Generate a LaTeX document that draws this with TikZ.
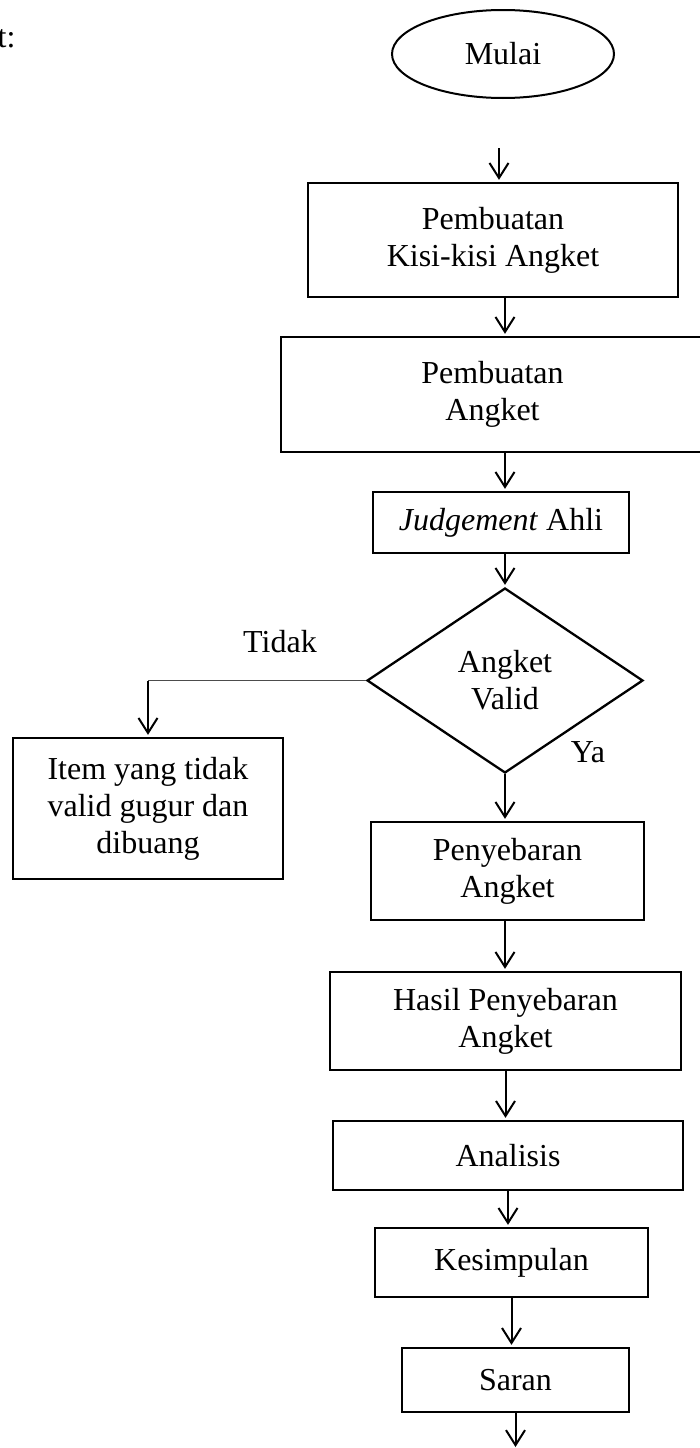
\documentclass[tikz,border=0pt]{standalone}
\usepackage{fontspec}
\setmainfont{Liberation Serif}
\usetikzlibrary{shapes.geometric,arrows.meta}

\def\boxLine{2.3pt}
\def\arrowLine{2pt}

\tikzset{
  txt/.style={font=\fontsize{32pt}{37pt}\selectfont},
  flowbox/.style={draw, rectangle, line width=\boxLine, align=center, inner sep=0pt},
  flowarrow/.style={line width=\arrowLine, -{Straight Barb[length=15pt,width=19pt]}, shorten >=2pt}
}

\begin{document}
\begin{tikzpicture}[x=1pt, y=-1pt, every node/.style={txt}]

    \useasboundingbox (0,0) rectangle (700,1448);

    % text cut at the page edge
    \node[anchor=base east] (intro) at (19,47) {ut:};

    % start
    \node[draw, ellipse, line width=2pt, minimum width=222pt, minimum height=88pt] (mulai) at (503,54) {Mulai};

    % main column
    \node[flowbox, minimum width=370pt, minimum height=114pt] (kisi) at (493,240) {Pembuatan\\Kisi-kisi Angket};
    \node[flowbox, minimum width=423pt, minimum height=115pt] (angket) at (492.5,394.5) {Pembuatan\\Angket};
    \node[flowbox, minimum width=256pt, minimum height=61pt] (judge) at (501,522.5) {\textit{Judgement} Ahli};
    \node[draw, diamond, line width=\boxLine, inner sep=0pt, align=center, minimum width=276pt, minimum height=185pt] (valid) at (505,680.5) {Angket\\Valid};
    \node[flowbox, minimum width=273pt, minimum height=98pt] (sebar) at (507.5,871) {Penyebaran\\Angket};
    \node[flowbox, minimum width=351pt, minimum height=98pt] (hasil) at (505.5,1021) {Hasil Penyebaran\\Angket};
    \node[flowbox, minimum width=350pt, minimum height=69pt] (analisis) at (508,1155.5) {Analisis};
    \node[flowbox, minimum width=273pt, minimum height=69pt] (simpul) at (511.5,1262.5) {Kesimpulan};
    \node[flowbox, minimum width=227pt, minimum height=64pt] (saran) at (515.5,1380) {Saran};

    % side branch
    \node[flowbox, minimum width=270pt, minimum height=141pt] (item) at (148,808.5) {Item yang tidak\\valid gugur dan\\dibuang};

    % labels
    \node (tidak) at (280,642) {Tidak};
    \node (ya) at (588,752) {Ya};

    % arrows
    \coordinate (top) at (499,148);
    \coordinate (fin) at (516,1447);
    \draw[flowarrow] (top) -- (top |- kisi.north);
    \draw[flowarrow] (kisi.south -| valid) -- (angket.north -| valid);
    \draw[flowarrow] (angket.south -| valid) -- (judge.north -| valid);
    \draw[flowarrow] (judge.south -| valid) -- (valid.north);
    \draw[flowarrow] (valid.south) -- (sebar.north -| valid);
    \draw[flowarrow] (sebar.south -| valid) -- (hasil.north -| valid);
    \draw[flowarrow] (hasil.south) -- (hasil.south |- analisis.north);
    \draw[flowarrow] (analisis.south) -- (analisis.south |- simpul.north);
    \draw[flowarrow] (simpul.south) -- (simpul.south |- saran.north);
    \draw[flowarrow, shorten >=0pt] (saran.south) -- (saran.south |- fin);

    \draw[line width=1.2pt, black!70] (valid.west) -- (valid.west -| item.north) coordinate (turn);
    \draw[flowarrow] (turn) -- (item.north);

\end{tikzpicture}
\end{document}
